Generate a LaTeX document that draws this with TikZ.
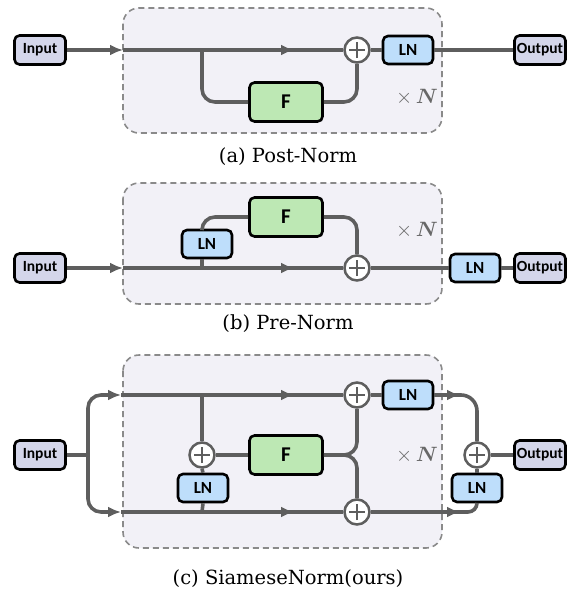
\documentclass[tikz,border=0pt]{standalone}
\usepackage{fontspec}
\usepackage{amsmath}
\usetikzlibrary{arrows.meta}
\newfontfamily\nlabfont{Carlito}
\newfontfamily\capfont{DejaVu Serif}
\definecolor{boxFill}{HTML}{F2F1F7}
\definecolor{boxDraw}{HTML}{8A8A8A}
\definecolor{lineC}{HTML}{5E5E5E}
\definecolor{ioFill}{HTML}{D4D6EA}
\definecolor{lnFill}{HTML}{BEDEFB}
\definecolor{fFill}{HTML}{BDE8B4}
\definecolor{timesC}{HTML}{686868}
\tikzset{
  blockbox/.style={draw=boxDraw, fill=boxFill, dashed, dash pattern=on 6pt off 4pt, line width=1.6pt, rounded corners=16pt},
  basenode/.style={draw=black, line width=2.6pt, rounded corners=5pt, inner sep=0pt, font=\nlabfont\bfseries},
  ionode/.style={basenode, fill=ioFill, minimum width=51pt, minimum height=29pt, font=\nlabfont\bfseries\fontsize{15.5}{17}\selectfont},
  lnnode/.style={basenode, fill=lnFill, minimum width=50pt, minimum height=28pt, font=\nlabfont\bfseries\fontsize{17}{19}\selectfont},
  fnode/.style={basenode, fill=fFill, minimum width=73pt, minimum height=39pt, font=\nlabfont\bfseries\fontsize{21}{24}\selectfont},
  addnode/.style={circle, draw=lineC, fill=white, line width=2.5pt, minimum size=25pt, inner sep=0pt,
    path picture={\draw[lineC, line width=2.4pt] ([xshift=-8pt]path picture bounding box.center) -- ([xshift=8pt]path picture bounding box.center);
                  \draw[lineC, line width=2.4pt] ([yshift=-8pt]path picture bounding box.center) -- ([yshift=8pt]path picture bounding box.center);}},
  conn/.style={draw=lineC, line width=3.6pt},
  arr/.style={conn, -{Latex[length=13pt,width=11pt]}},
  caplabel/.style={font=\capfont\fontsize{19.5}{23}\selectfont},
  timeslabel/.style={text=timesC, font=\fontsize{20}{22}\selectfont},
}
\begin{document}
\begin{tikzpicture}[x=1pt,y=-1pt]
\useasboundingbox (0,0) rectangle (570,592);

% ---------- (a) Post-Norm ----------
\path[blockbox] (123,8) rectangle (442,133);
\node[ionode] (inA) at (40,50) {Input};
\node[fnode] (FA) at (286,102) {F};
\node[addnode] (plusA) at (357,50) {};
\node[lnnode] (lnA) at (408,50) {LN};
\node[ionode] (outA) at (540,50) {Output};
\node[timeslabel] (tA) at (417,97) {$\times\,\boldsymbol{N}$};
\coordinate (a1) at (123,50);
\coordinate (a2) at (294,50);
\coordinate (aBr) at (202,50);
\draw[arr] (inA.east) -- (a1);
\draw[conn] (a1) -- (plusA.west);
\draw[arr] (a1) -- (a2);
\draw[conn, rounded corners=13pt] (aBr) |- (FA.west);
\draw[conn, rounded corners=13pt] (FA.east) -| (plusA.south);
\draw[conn] (plusA.east) -- (lnA.west);
\draw[conn] (lnA.east) -- (outA.west);
\node[caplabel] (capA) at (288,157) {(a) Post-Norm};

% ---------- (b) Pre-Norm ----------
\path[blockbox] (123,183) rectangle (442,304);
\node[ionode] (inB) at (40,268) {Input};
\node[lnnode] (lnB) at (207,244) {LN};
\node[fnode] (FB) at (286,217) {F};
\node[addnode] (plusB) at (357,268) {};
\node[lnnode] (lnB2) at (475,268) {LN};
\node[ionode] (outB) at (540,268) {Output};
\node[timeslabel] (tB) at (417,230) {$\times\,\boldsymbol{N}$};
\coordinate (b1) at (123,268);
\coordinate (b2) at (294,268);
\coordinate (bBr) at (202,268);
\draw[arr] (inB.east) -- (b1);
\draw[conn] (b1) -- (plusB.west);
\draw[arr] (b1) -- (b2);
\draw[conn] (bBr) -- (bBr |- lnB.south);
\draw[conn, rounded corners=13pt] (bBr |- lnB.north) |- (FB.west);
\draw[conn, rounded corners=13pt] (FB.east) -| (plusB.north);
\draw[conn] (plusB.east) -- (lnB2.west);
\draw[conn] (lnB2.east) -- (outB.west);
\node[caplabel] (capB) at (288,324) {(b) Pre-Norm};

% ---------- (c) SiameseNorm ----------
\path[blockbox] (123,355) rectangle (442,548);
\node[ionode] (inC) at (40,455) {Input};
\node[addnode] (plusCl) at (202,455) {};
\node[lnnode] (lnCl) at (203,488) {LN};
\node[fnode] (FC) at (286,455) {F};
\node[addnode] (plusCt) at (357,395) {};
\node[addnode] (plusCb) at (357,512) {};
\node[lnnode] (lnCt) at (408,395) {LN};
\node[addnode] (plusCr) at (477,455) {};
\node[lnnode] (lnCr) at (477,488) {LN};
\node[ionode] (outC) at (540,455) {Output};
\node[timeslabel] (tC) at (417,455) {$\times\,\boldsymbol{N}$};
\coordinate (cSplit) at (88,455);
\coordinate (c1t) at (121,395);
\coordinate (c1b) at (121,512);
\coordinate (c2t) at (294,395);
\coordinate (c2b) at (294,512);
\coordinate (c3t) at (460,395);
\coordinate (c3b) at (460,512);
\coordinate (cTopBr) at (202,395);
\coordinate (cBotBr) at (202,512);
\draw[conn] (inC.east) -- (cSplit);
\draw[arr, rounded corners=13pt] (cSplit) |- (c1t);
\draw[arr, rounded corners=13pt] (cSplit) |- (c1b);
\draw[conn] (c1t) -- (plusCt.west);
\draw[conn] (c1b) -- (plusCb.west);
\draw[arr] (c1t) -- (c2t);
\draw[arr] (c1b) -- (c2b);
\draw[conn] (cTopBr) -- (plusCl.north);
\draw[conn] (plusCl.south) -- (lnCl.north);
\draw[conn] (lnCl.south) -- (cBotBr);
\draw[conn] (plusCl.east) -- (FC.west);
\draw[conn, rounded corners=13pt] (FC.east) -| (plusCt.south);
\draw[conn, rounded corners=13pt] (FC.east) -| (plusCb.north);
\draw[conn] (plusCt.east) -- (lnCt.west);
\draw[conn, rounded corners=16pt] (lnCt.east) -| (plusCr.north);
\draw[arr] (lnCt.east) -- (c3t);
\draw[conn, rounded corners=9pt] (plusCb.east) -| (lnCr.south);
\draw[arr] (plusCb.east) -- (c3b);
\draw[conn] (plusCr.south) -- (lnCr.north);
\draw[conn] (plusCr.east) -- (outC.west);
\node[caplabel] (capC) at (288,579) {(c) SiameseNorm(ours)};
\end{tikzpicture}
\end{document}
